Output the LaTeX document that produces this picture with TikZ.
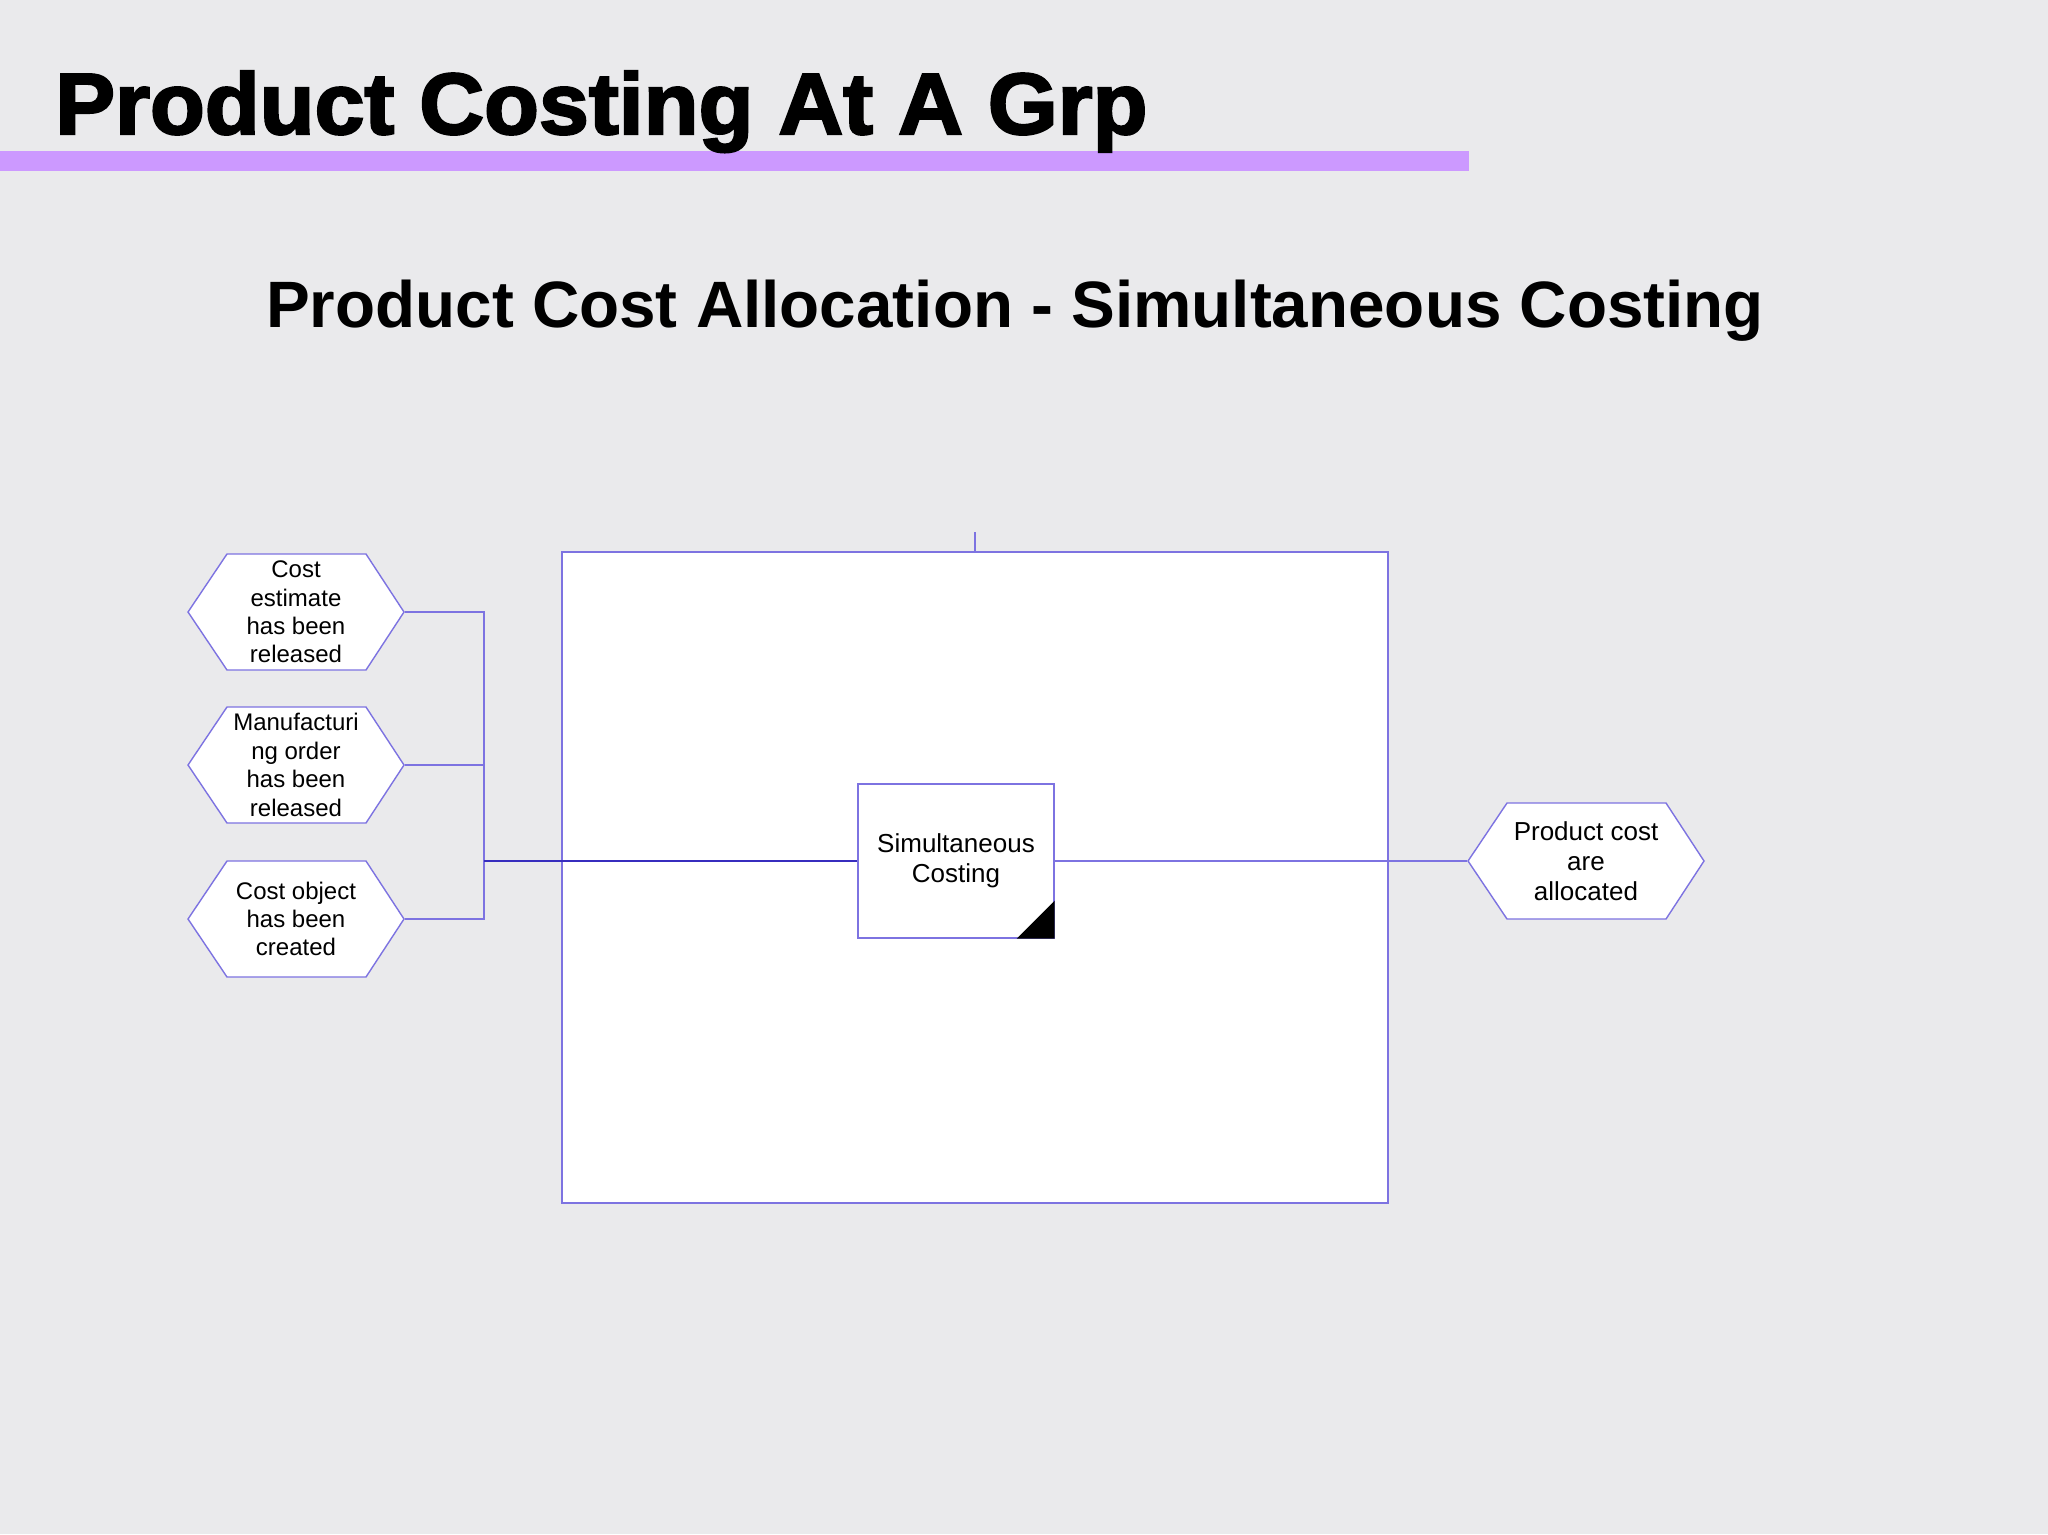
\documentclass[tikz,border=0pt]{standalone}
\usepackage{fontspec}
\setmainfont{Liberation Sans}
\newfontfamily\headfont{Liberation Sans}[FakeBold=2.5]
\usetikzlibrary{calc}

\definecolor{pagebg}{RGB}{234,234,236}
\definecolor{barviolet}{RGB}{204,153,255}
\definecolor{edgeblue}{RGB}{125,115,225}
\definecolor{mainblue}{RGB}{55,45,190}

\tikzset{
  evt/.style={inner sep=0pt, minimum width=#1, minimum height=118, align=center,
    font=\fontsize{24}{28.4}\selectfont,
    path picture={
      \draw[edgeblue, line width=1.4pt, fill=white]
        ($(path picture bounding box.west)+(1,0)$)
        -- ($(path picture bounding box.north west)+(40,1)$)
        -- ($(path picture bounding box.north east)+(-39,1)$)
        -- ($(path picture bounding box.east)+(-1,0)$)
        -- ($(path picture bounding box.south east)+(-39,-1)$)
        -- ($(path picture bounding box.south west)+(40,-1)$)
        -- cycle;
    }},
  evt/.default=218,
  funcbox/.style={draw=edgeblue, fill=white, line width=1.4pt, minimum width=196,
    minimum height=154, inner sep=0pt, align=center,
    font=\fontsize{26}{30}\selectfont},
  conn/.style={edgeblue, line width=1.4pt},
}

\begin{document}
\begin{tikzpicture}[x=1pt,y=-1pt]

\fill[pagebg] (0,0) rectangle (2048,1534);
\useasboundingbox (0,0) rectangle (2048,1534);

% headings
\fill[barviolet] (0,151) rectangle (1469,171);
\node[anchor=base west, inner sep=0pt, font=\headfont\bfseries\fontsize{87}{90}\selectfont]
  (title) at (55,134) {\scalebox{1.032}[1]{Product Costing At A Grp}};
\node[anchor=base, inner sep=0pt, font=\bfseries\fontsize{65.6}{70}\selectfont]
  (subtitle) at (1015,327) {Product Cost Allocation - Simultaneous Costing};

% lane
\node[draw=edgeblue, fill=white, line width=1.4pt, minimum width=826, minimum height=651,
  inner sep=0pt] (lane) at (975,877.5) {};
\draw[conn] (lane.north) -- ++(0,-19);

% events
\node[evt] (ev1) at (296,612) {Cost\\estimate\\has been\\released};
\node[evt] (ev2) at (296,765) {Manufacturi\\ng order\\has been\\released};
\node[evt] (ev3) at (296,919) {Cost object\\has been\\created};
\node[evt=238, font=\fontsize{26}{30}\selectfont] (res) at (1586,861) {Product cost\\are\\allocated};

% function
\node[funcbox] (sim) at (956,861) {Simultaneous\\Costing};
\fill[black] (sim.south east) -- ([xshift=-38pt]sim.south east) -- ([yshift=38pt]sim.south east) -- cycle;

% connectors
\coordinate (bus) at (484,861);
\foreach \e in {ev1,ev2,ev3}
  \draw[conn] (\e.east) -| (bus);
\draw[mainblue, line width=1.4pt] (bus) -- (sim.west);
\draw[conn] (sim.east) -- (res.west);

\end{tikzpicture}
\end{document}
